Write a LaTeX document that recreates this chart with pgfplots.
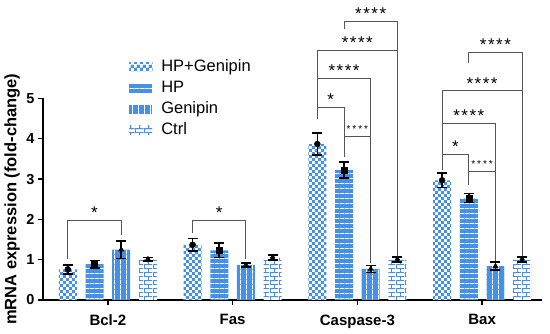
\documentclass[border=0pt]{standalone}
\usepackage{pgfplots}
\pgfplotsset{compat=1.18}
\usepackage{fontspec}
\setmainfont{Liberation Sans}
\usetikzlibrary{patterns}
\definecolor{barblue}{RGB}{70,145,232}
\definecolor{brk}{RGB}{85,85,85}
\pgfdeclarepatternformonly{checker}{\pgfqpoint{0pt}{0pt}}{\pgfqpoint{6.4pt}{6.4pt}}{\pgfqpoint{6.4pt}{6.4pt}}{%
\pgfpathrectangle{\pgfqpoint{0pt}{0pt}}{\pgfqpoint{3.2pt}{3.2pt}}%
\pgfpathrectangle{\pgfqpoint{3.2pt}{3.2pt}}{\pgfqpoint{3.2pt}{3.2pt}}\pgfusepath{fill}}
\pgfdeclarepatternformonly{hl}{\pgfqpoint{0pt}{0pt}}{\pgfqpoint{5pt}{5pt}}{\pgfqpoint{5pt}{5pt}}{%
\pgfpathrectangle{\pgfqpoint{-0.1pt}{0pt}}{\pgfqpoint{5.2pt}{1.1pt}}\pgfusepath{fill}}
\pgfdeclarepatternformonly{vl}{\pgfqpoint{0pt}{0pt}}{\pgfqpoint{6pt}{5pt}}{\pgfqpoint{6pt}{5pt}}{%
\pgfpathrectangle{\pgfqpoint{0pt}{-0.1pt}}{\pgfqpoint{1.1pt}{5.2pt}}\pgfusepath{fill}}
\pgfdeclarepatternformonly{brick}{\pgfqpoint{0pt}{0pt}}{\pgfqpoint{9pt}{8.4pt}}{\pgfqpoint{9pt}{8.4pt}}{%
\pgfpathrectangle{\pgfqpoint{-0.1pt}{0pt}}{\pgfqpoint{9.2pt}{0.9pt}}%
\pgfpathrectangle{\pgfqpoint{-0.1pt}{4.2pt}}{\pgfqpoint{9.2pt}{0.9pt}}%
\pgfpathrectangle{\pgfqpoint{0pt}{0pt}}{\pgfqpoint{0.9pt}{4.2pt}}%
\pgfpathrectangle{\pgfqpoint{4.5pt}{4.2pt}}{\pgfqpoint{0.9pt}{4.2pt}}\pgfusepath{fill}}

\pgfplotstableread{
x y e
-0.321 0.76 0.11
0.679 1.37 0.16
1.679 3.87 0.27
2.679 2.97 0.18
}\sA
\pgfplotstableread{
x y e
-0.107 0.89 0.09
0.893 1.23 0.18
1.893 3.23 0.20
2.893 2.53 0.11
}\sB
\pgfplotstableread{
x y e
0.107 1.25 0.22
1.107 0.87 0.05
2.107 0.77 0.09
3.107 0.84 0.10
}\sC
\pgfplotstableread{
x y e
0.321 1.01 0.04
1.321 1.05 0.06
2.321 1.00 0.06
3.321 1.00 0.06
}\sD

\newcommand{\bigst}{*\kern1.5pt*\kern1.5pt*\kern1.5pt*}
\newcommand{\smst}{*\kern2pt*\kern2pt*\kern2pt*}

\begin{document}
\begin{tikzpicture}
\begin{axis}[
  scale only axis, width=499pt, height=201.5pt,
  xmin=-0.52, xmax=3.48, ymin=0, ymax=5,
  axis lines=left, axis line style={-, line width=1.4pt},
  clip=false,
  xtick={0,1,2,3}, xticklabels={Bcl-2,Fas,Caspase-3,Bax},
  ytick={0,1,2,3,4,5},
  tick align=outside, major tick length=5pt,
  tick style={line width=1.4pt, black},
  /pgf/number format/assume math mode=true,
  xticklabel style={font=\fontsize{15}{15}\selectfont\bfseries, yshift=-6pt},
  yticklabel style={font=\fontsize{14.5}{15}\selectfont\bfseries},
  ylabel={mRNA expression (fold-change)},
  ylabel style={font=\fontsize{16.5}{17}\selectfont\bfseries, at={(axis description cs:-0.062,0.5)}, anchor=center},
  legend style={draw=none, fill=none, at={(axis cs:0.146,6.05)}, anchor=north west,
    font=\fontsize{16.5}{18}\selectfont, row sep=3.5pt,
    nodes={inner sep=1pt, text height=12pt, text depth=3.5pt},
    /tikz/every odd column/.style={column sep=8pt}},
  legend cell align=left,
  errstyle/.style={forget plot, only marks, black, mark size=3pt,
    error bars/y dir=both, error bars/y explicit,
    error bars/error bar style={line width=1.6pt, black},
    error bars/error mark options={rotate=90, mark size=5pt, line width=1.6pt, black}},
]
\addplot[ybar, bar width=18pt, bar shift=0pt, draw=none, fill=white, postaction={pattern=checker, pattern color=barblue},
  legend image code/.code={\path[fill=white, postaction={pattern=checker, pattern color=barblue}] (0pt,-4.5pt) rectangle (23pt,4.5pt);}]
  table[x=x,y=y]{\sA};
\addlegendentry{HP+Genipin}
\addplot[ybar, bar width=18pt, bar shift=0pt, draw=none, fill=barblue, postaction={pattern=hl, pattern color=white},
  legend image code/.code={\path[fill=barblue, postaction={pattern=hl, pattern color=white}] (0pt,-4.5pt) rectangle (23pt,4.5pt);}]
  table[x=x,y=y]{\sB};
\addlegendentry{HP}
\addplot[ybar, bar width=18pt, bar shift=0pt, draw=none, fill=barblue, postaction={pattern=vl, pattern color=white},
  legend image code/.code={\path[fill=barblue, postaction={pattern=vl, pattern color=white}] (0pt,-4.5pt) rectangle (23pt,4.5pt);}]
  table[x=x,y=y]{\sC};
\addlegendentry{Genipin}
\addplot[ybar, bar width=18pt, bar shift=0pt, draw=none, fill=white, postaction={pattern=brick, pattern color=barblue},
  legend image code/.code={\path[fill=white, postaction={pattern=brick, pattern color=barblue}] (0pt,-4.5pt) rectangle (23pt,4.5pt);}]
  table[x=x,y=y]{\sD};
\addlegendentry{Ctrl}

\addplot[errstyle, mark=*] table[x=x,y=y,y error=e]{\sA};
\addplot[errstyle, mark=square*] table[x=x,y=y,y error=e]{\sB};
\addplot[errstyle, mark=triangle*] table[x=x,y=y,y error=e]{\sC};
\addplot[errstyle, mark=diamond*] table[x=x,y=y,y error=e]{\sD};

\begin{scope}[draw=brk, line width=1pt]
\draw (axis cs:-0.321,1.02)--(axis cs:-0.321,1.97)--(axis cs:0.107,1.97)--(axis cs:0.107,1.62);
\draw (axis cs:0.679,1.66)--(axis cs:0.679,1.97)--(axis cs:1.107,1.97)--(axis cs:1.107,1.02);
\draw (axis cs:1.679,4.48)--(axis cs:1.679,4.77)--(axis cs:1.893,4.77)--(axis cs:1.893,3.56);
\draw (axis cs:1.893,4.06)--(axis cs:2.107,4.06)--(axis cs:2.107,0.92);
\draw (axis cs:1.679,4.77)--(axis cs:1.679,5.49)--(axis cs:2.107,5.49)--(axis cs:2.107,4.06);
\draw (axis cs:1.679,5.49)--(axis cs:1.679,6.18)--(axis cs:2.321,6.18)--(axis cs:2.321,1.07);
\draw (axis cs:1.893,6.73)--(axis cs:1.893,6.91)--(axis cs:2.321,6.91)--(axis cs:2.321,6.18);
\draw (axis cs:2.679,3.23)--(axis cs:2.679,3.62)--(axis cs:2.893,3.62)--(axis cs:2.893,2.86);
\draw (axis cs:2.893,3.19)--(axis cs:3.107,3.19)--(axis cs:3.107,0.98);
\draw (axis cs:2.679,3.62)--(axis cs:2.679,4.37)--(axis cs:3.107,4.37)--(axis cs:3.107,3.19);
\draw (axis cs:2.679,4.37)--(axis cs:2.679,5.2)--(axis cs:3.321,5.2)--(axis cs:3.321,1.1);
\draw (axis cs:2.893,5.87)--(axis cs:2.893,6.14)--(axis cs:3.321,6.14)--(axis cs:3.321,5.2);
\end{scope}
\tikzset{bs/.style={anchor=base, inner sep=0pt, yshift=-9.7pt, font=\fontsize{17}{17}\selectfont},
  ss/.style={anchor=base, inner sep=0pt, yshift=-5.7pt, font=\fontsize{10}{10}\selectfont}}
\node[bs] at (axis cs:-0.107,2.26) {*};
\node[bs] at (axis cs:0.893,2.26) {*};
\node[bs] at (axis cs:1.786,5.06) {*};
\node[ss] at (axis cs:2.0,4.31) {\smst};
\node[bs] at (axis cs:1.893,5.79) {\bigst};
\node[bs] at (axis cs:2.0,6.47) {\bigst};
\node[bs] at (axis cs:2.107,7.21) {\bigst};
\node[bs] at (axis cs:2.786,3.91) {*};
\node[ss] at (axis cs:3.0,3.42) {\smst};
\node[bs] at (axis cs:2.893,4.67) {\bigst};
\node[bs] at (axis cs:3.0,5.47) {\bigst};
\node[bs] at (axis cs:3.107,6.43) {\bigst};
\end{axis}
\pgfresetboundingbox
\path[use as bounding box] (-43pt,-34pt) rectangle (507pt,300pt);
\end{tikzpicture}
\end{document}
